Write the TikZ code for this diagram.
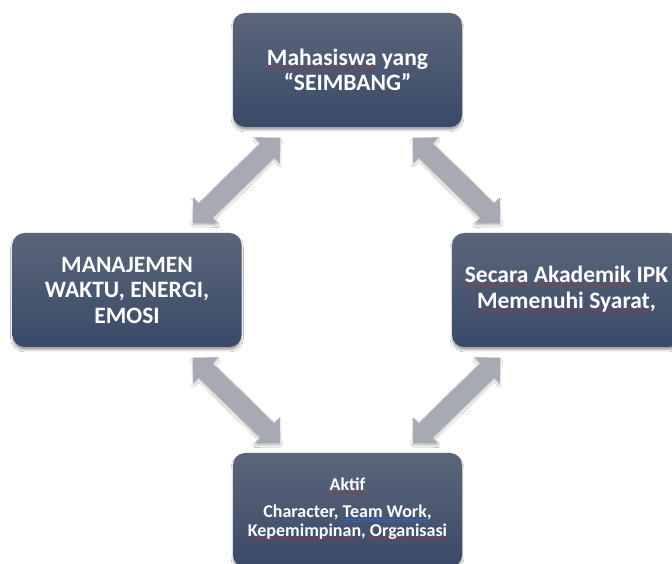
\documentclass[tikz,border=0pt]{standalone}
\usepackage{fontspec}
\setmainfont{Carlito}
\usetikzlibrary{shadows.blur}
\definecolor{boxtop}{HTML}{5B6679}
\definecolor{boxbot}{HTML}{3A4968}
\definecolor{arrowgray}{HTML}{A7AAB3}
\definecolor{sqred}{HTML}{D42020}
\definecolor{ulblue}{HTML}{3060C0}
\newcommand\sq[1]{{\setbox0=\hbox{#1}\leavevmode\rlap{\textcolor{sqred}{\fontsize{7}{7}\selectfont\lower5pt\hbox to\wd0{\xleaders\hbox{\char"7E}\hfil}}}\box0}}
\newcommand\bdl[1]{{\setbox0=\hbox{#1}\leavevmode\rlap{\textcolor{ulblue}{\rule[-2.2pt]{\wd0}{0.6pt}}}\rlap{\textcolor{ulblue}{\rule[-3.9pt]{\wd0}{0.6pt}}}\box0}}
\tikzset{
  box/.style={rounded corners=12pt, minimum width=229pt, minimum height=114pt,
    top color=boxtop, bottom color=boxbot, text=white, align=center, inner sep=0pt,
    font=\fontsize{23.5}{25.5}\selectfont\bfseries,
    blur shadow={shadow xshift=0pt, shadow yshift=-3pt, shadow blur steps=6, shadow opacity=35}},
  smallbox/.style={box, font=\fontsize{18}{19.5}\selectfont\bfseries},
  dblarrow/.pic={
    \fill[arrowgray, blur shadow={shadow xshift=0pt, shadow yshift=-2pt, shadow blur steps=4, shadow opacity=25}]
      (61,0) -- (43,18) -- (43,10) -- (-43,10) -- (-43,18) -- (-61,0)
      -- (-43,-18) -- (-43,-10) -- (43,-10) -- (43,-18) -- cycle;
  }
}
\begin{document}
\begin{tikzpicture}[x=1pt,y=1pt]
\useasboundingbox (0,0) rectangle (672,564);
\fill[white] (0,0) rectangle (672,564);
\node[box] (top) at (347.5,494) {\sq{Mahasiswa} yang\\``SEIMBANG''};
\node[box] (left) at (127,274) {MANAJEMEN\\WAKTU, ENERGI,\\EMOSI};
\node[box] (right) at (566.5,274) {\sq{Secara} \sq{Akademik} IPK\\\sq{Memenuhi} \sq{Syarat},};
\node[smallbox] (bottom) at (347.5,54) {\sq{Aktif}\\[7pt]Character, \bdl{Team Work},\\\sq{Kepemimpinan}, \sq{Organisasi}};
\coordinate (atl) at (236.5,383.5);
\coordinate (atr) at (456.5,383.5);
\coordinate (abl) at (236.5,163.5);
\coordinate (abr) at (456.5,163.5);
\pic[rotate=44.3] at (atl) {dblarrow};
\pic[rotate=-44.3] at (atr) {dblarrow};
\pic[rotate=-44.3] at (abl) {dblarrow};
\pic[rotate=44.3] at (abr) {dblarrow};
\end{tikzpicture}
\end{document}
